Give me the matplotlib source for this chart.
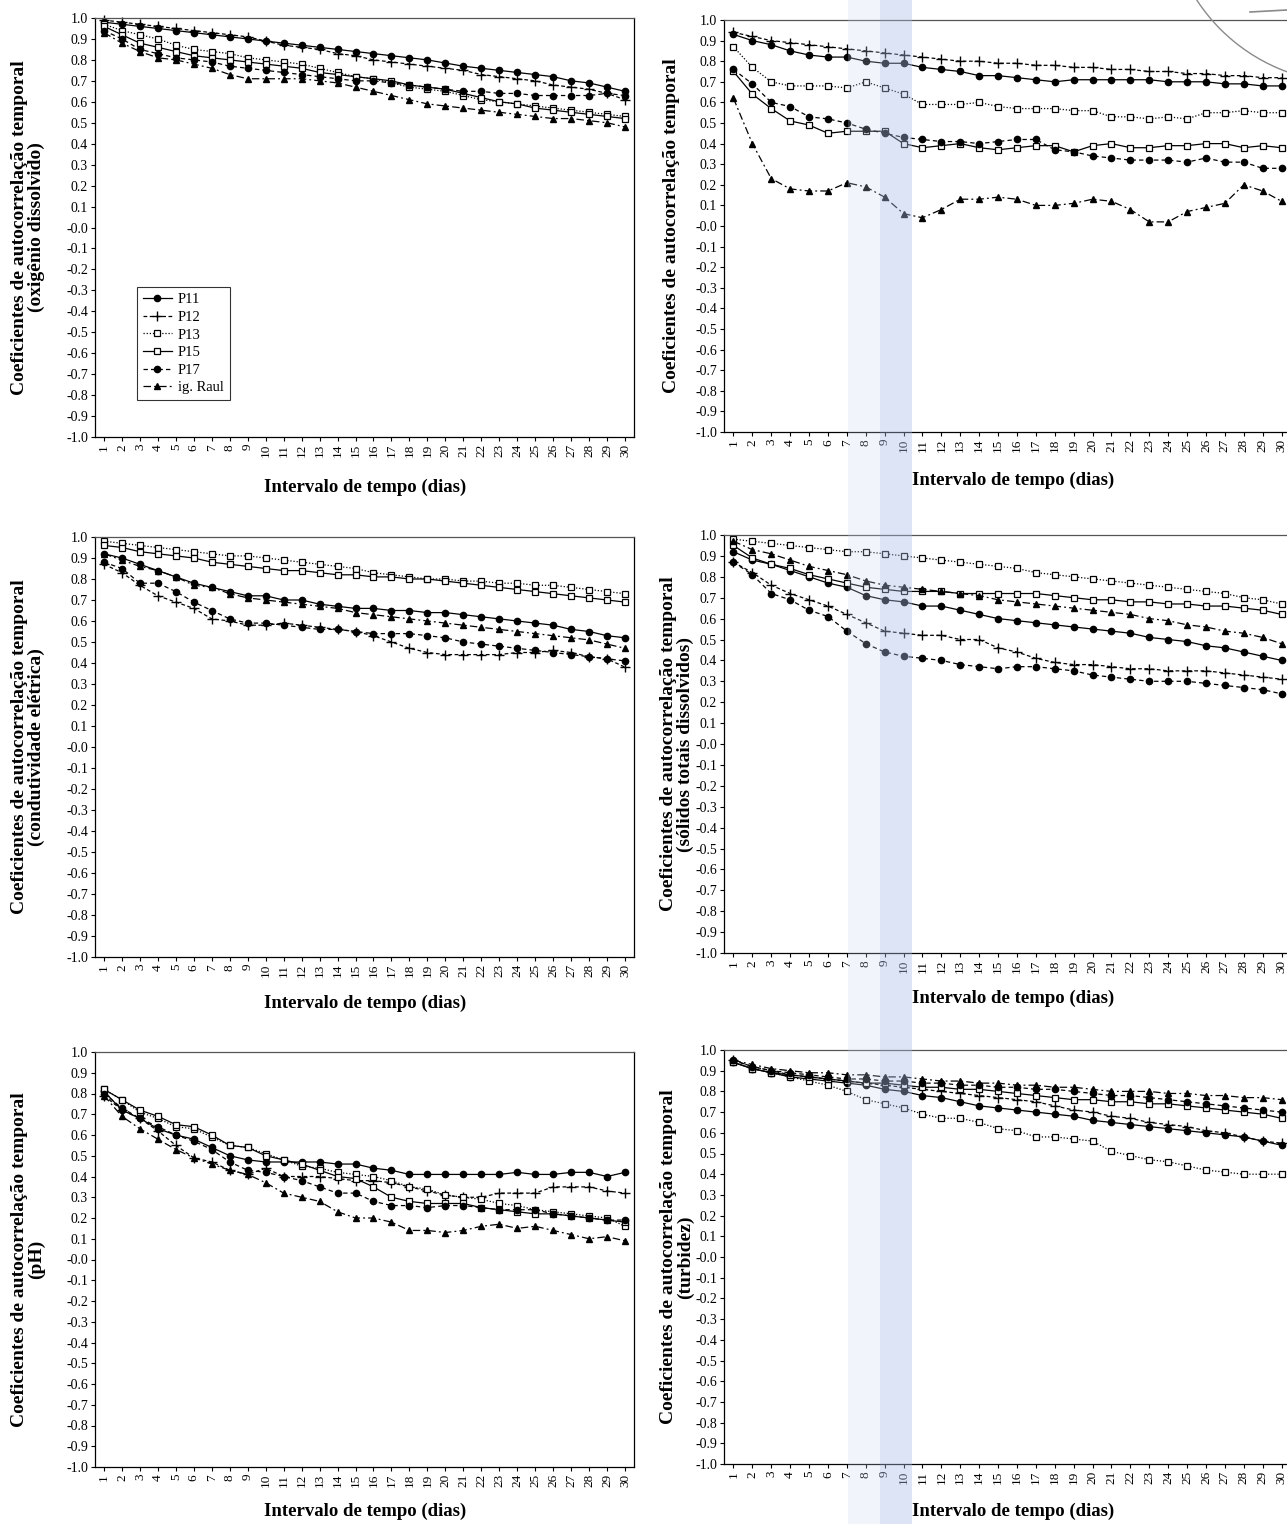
import matplotlib
matplotlib.use("Agg")
import matplotlib.pyplot as plt
from matplotlib.patches import Rectangle, Arc
import numpy as np

plt.rcParams['font.family'] = ['Liberation Serif', 'DejaVu Serif']
plt.rcParams['axes.unicode_minus'] = False

dias = list(range(1, 31))
series_names = ["P11", "P12", "P13", "P15", "P17", "ig. Raul"]

# Oxigênio dissolvido
od_p11 = [0.98, 0.97, 0.96, 0.95, 0.94, 0.93, 0.92, 0.91, 0.90, 0.89, 0.88, 0.87, 0.86, 0.85, 0.84,
          0.83, 0.82, 0.81, 0.80, 0.785, 0.77, 0.76, 0.75, 0.74, 0.73, 0.72, 0.70, 0.69, 0.67, 0.65]
od_p12 = [0.99, 0.98, 0.97, 0.96, 0.95, 0.94, 0.93, 0.92, 0.91, 0.89, 0.87, 0.86, 0.85, 0.83, 0.82,
          0.80, 0.79, 0.78, 0.77, 0.76, 0.75, 0.73, 0.72, 0.71, 0.70, 0.68, 0.67, 0.66, 0.64, 0.61]
od_p13 = [0.97, 0.94, 0.92, 0.90, 0.87, 0.85, 0.84, 0.83, 0.81, 0.80, 0.79, 0.78, 0.76, 0.74, 0.72,
          0.71, 0.69, 0.67, 0.66, 0.65, 0.63, 0.61, 0.60, 0.59, 0.58, 0.57, 0.56, 0.55, 0.54, 0.53]
od_p15 = [0.96, 0.92, 0.88, 0.86, 0.84, 0.82, 0.81, 0.80, 0.79, 0.78, 0.77, 0.76, 0.74, 0.73, 0.72,
          0.71, 0.70, 0.68, 0.67, 0.66, 0.64, 0.62, 0.60, 0.59, 0.57, 0.56, 0.55, 0.54, 0.53, 0.52]
od_p17 = [0.94, 0.90, 0.85, 0.83, 0.81, 0.80, 0.79, 0.77, 0.76, 0.75, 0.74, 0.73, 0.72, 0.71, 0.70,
          0.70, 0.69, 0.68, 0.67, 0.66, 0.65, 0.65, 0.64, 0.64, 0.63, 0.63, 0.63, 0.63, 0.64, 0.63]
od_raul = [0.93, 0.88, 0.84, 0.81, 0.80, 0.78, 0.76, 0.73, 0.71, 0.71, 0.71, 0.71, 0.70, 0.69, 0.67,
           0.65, 0.63, 0.61, 0.59, 0.58, 0.57, 0.56, 0.55, 0.54, 0.53, 0.52, 0.52, 0.51, 0.50, 0.48]

# Painel superior direito
sp_p11 = [0.93, 0.90, 0.88, 0.85, 0.83, 0.82, 0.82, 0.80, 0.79, 0.79, 0.77, 0.76, 0.75, 0.73, 0.73,
          0.72, 0.71, 0.70, 0.71, 0.71, 0.71, 0.71, 0.71, 0.70, 0.70, 0.70, 0.69, 0.69, 0.68, 0.68]
sp_p12 = [0.94, 0.92, 0.90, 0.89, 0.88, 0.87, 0.86, 0.85, 0.84, 0.83, 0.82, 0.81, 0.80, 0.80, 0.79,
          0.79, 0.78, 0.78, 0.77, 0.77, 0.76, 0.76, 0.75, 0.75, 0.74, 0.74, 0.73, 0.73, 0.72, 0.72]
sp_p13 = [0.87, 0.77, 0.70, 0.68, 0.68, 0.68, 0.67, 0.70, 0.67, 0.64, 0.59, 0.59, 0.59, 0.60, 0.58,
          0.57, 0.57, 0.57, 0.56, 0.56, 0.53, 0.53, 0.52, 0.53, 0.52, 0.55, 0.55, 0.56, 0.55, 0.55]
sp_p15 = [0.75, 0.64, 0.57, 0.51, 0.49, 0.45, 0.46, 0.46, 0.46, 0.40, 0.38, 0.39, 0.40, 0.38, 0.37,
          0.38, 0.39, 0.39, 0.36, 0.39, 0.40, 0.38, 0.38, 0.39, 0.39, 0.40, 0.40, 0.38, 0.39, 0.38]
sp_p17 = [0.76, 0.69, 0.60, 0.58, 0.53, 0.52, 0.50, 0.47, 0.45, 0.43, 0.42, 0.41, 0.41, 0.40, 0.41,
          0.42, 0.42, 0.37, 0.36, 0.34, 0.33, 0.32, 0.32, 0.32, 0.31, 0.33, 0.31, 0.31, 0.28, 0.28]
sp_raul = [0.62, 0.40, 0.23, 0.18, 0.17, 0.17, 0.21, 0.19, 0.14, 0.06, 0.04, 0.08, 0.13, 0.13, 0.14,
           0.13, 0.10, 0.10, 0.11, 0.13, 0.12, 0.08, 0.02, 0.02, 0.07, 0.09, 0.11, 0.20, 0.17, 0.12]

# Condutividade elétrica
ce_p11 = [0.92, 0.90, 0.87, 0.84, 0.81, 0.78, 0.76, 0.74, 0.72, 0.72, 0.70, 0.70, 0.68, 0.67, 0.66,
          0.66, 0.65, 0.65, 0.64, 0.64, 0.63, 0.62, 0.61, 0.60, 0.59, 0.58, 0.56, 0.55, 0.53, 0.52]
ce_p12 = [0.87, 0.83, 0.77, 0.72, 0.69, 0.66, 0.61, 0.60, 0.58, 0.58, 0.59, 0.58, 0.57, 0.56, 0.55,
          0.53, 0.50, 0.47, 0.45, 0.44, 0.44, 0.44, 0.44, 0.45, 0.45, 0.46, 0.45, 0.43, 0.42, 0.38]
ce_p13 = [0.98, 0.97, 0.96, 0.95, 0.94, 0.93, 0.92, 0.91, 0.91, 0.90, 0.89, 0.88, 0.87, 0.86, 0.85,
          0.83, 0.82, 0.81, 0.80, 0.80, 0.79, 0.79, 0.78, 0.78, 0.77, 0.77, 0.76, 0.75, 0.74, 0.73]
ce_p15 = [0.96, 0.95, 0.93, 0.92, 0.91, 0.90, 0.88, 0.87, 0.86, 0.85, 0.84, 0.84, 0.83, 0.82, 0.82,
          0.81, 0.81, 0.80, 0.80, 0.79, 0.78, 0.77, 0.76, 0.75, 0.74, 0.73, 0.72, 0.71, 0.70, 0.69]
ce_p17 = [0.88, 0.85, 0.78, 0.78, 0.74, 0.69, 0.65, 0.61, 0.59, 0.59, 0.58, 0.57, 0.56, 0.56, 0.55,
          0.54, 0.54, 0.54, 0.53, 0.52, 0.50, 0.49, 0.48, 0.47, 0.46, 0.45, 0.44, 0.43, 0.42, 0.41]
ce_raul = [0.92, 0.89, 0.86, 0.84, 0.81, 0.77, 0.76, 0.73, 0.71, 0.70, 0.69, 0.68, 0.67, 0.66, 0.64,
           0.63, 0.62, 0.61, 0.60, 0.59, 0.58, 0.57, 0.56, 0.55, 0.54, 0.53, 0.52, 0.51, 0.49, 0.47]

# Sólidos totais dissolvidos
std_p11 = [0.92, 0.88, 0.86, 0.83, 0.80, 0.77, 0.75, 0.71, 0.69, 0.68, 0.66, 0.66, 0.64, 0.62, 0.60,
           0.59, 0.58, 0.57, 0.56, 0.55, 0.54, 0.53, 0.51, 0.50, 0.49, 0.47, 0.46, 0.44, 0.42, 0.40]
std_p12 = [0.87, 0.82, 0.76, 0.72, 0.69, 0.66, 0.62, 0.58, 0.54, 0.53, 0.52, 0.52, 0.50, 0.50, 0.46,
           0.44, 0.41, 0.39, 0.38, 0.38, 0.37, 0.36, 0.36, 0.35, 0.35, 0.35, 0.34, 0.33, 0.32, 0.31]
std_p13 = [0.98, 0.97, 0.96, 0.95, 0.94, 0.93, 0.92, 0.92, 0.91, 0.90, 0.89, 0.88, 0.87, 0.86, 0.85,
           0.84, 0.82, 0.81, 0.80, 0.79, 0.78, 0.77, 0.76, 0.75, 0.74, 0.73, 0.72, 0.70, 0.69, 0.67]
std_p15 = [0.95, 0.89, 0.86, 0.84, 0.81, 0.79, 0.77, 0.75, 0.74, 0.73, 0.73, 0.73, 0.72, 0.72, 0.72,
           0.72, 0.72, 0.71, 0.70, 0.69, 0.69, 0.68, 0.68, 0.67, 0.67, 0.66, 0.66, 0.65, 0.64, 0.62]
std_p17 = [0.87, 0.81, 0.72, 0.69, 0.64, 0.61, 0.54, 0.48, 0.44, 0.42, 0.41, 0.40, 0.38, 0.37, 0.36,
           0.37, 0.37, 0.36, 0.35, 0.33, 0.32, 0.31, 0.30, 0.30, 0.30, 0.29, 0.28, 0.27, 0.26, 0.24]
std_raul = [0.97, 0.93, 0.91, 0.88, 0.85, 0.83, 0.81, 0.78, 0.76, 0.75, 0.74, 0.73, 0.72, 0.71, 0.69,
            0.68, 0.67, 0.66, 0.65, 0.64, 0.63, 0.62, 0.60, 0.59, 0.57, 0.56, 0.54, 0.53, 0.51, 0.48]

# pH
ph_p11 = [0.81, 0.72, 0.68, 0.63, 0.60, 0.58, 0.54, 0.50, 0.48, 0.47, 0.47, 0.47, 0.47, 0.46, 0.46,
          0.44, 0.43, 0.41, 0.41, 0.41, 0.41, 0.41, 0.41, 0.42, 0.41, 0.41, 0.42, 0.42, 0.40, 0.42]
ph_p12 = [0.79, 0.72, 0.68, 0.62, 0.55, 0.49, 0.47, 0.43, 0.41, 0.44, 0.40, 0.40, 0.40, 0.39, 0.38,
          0.38, 0.37, 0.35, 0.33, 0.31, 0.30, 0.30, 0.32, 0.32, 0.32, 0.35, 0.35, 0.35, 0.33, 0.32]
ph_p13 = [0.82, 0.77, 0.71, 0.68, 0.64, 0.63, 0.59, 0.55, 0.54, 0.51, 0.48, 0.45, 0.44, 0.42, 0.41,
          0.40, 0.38, 0.35, 0.34, 0.31, 0.30, 0.29, 0.27, 0.26, 0.24, 0.23, 0.22, 0.21, 0.20, 0.16]
ph_p15 = [0.82, 0.77, 0.72, 0.69, 0.65, 0.64, 0.60, 0.55, 0.54, 0.50, 0.48, 0.46, 0.43, 0.40, 0.39,
          0.35, 0.30, 0.28, 0.27, 0.27, 0.27, 0.25, 0.24, 0.23, 0.22, 0.22, 0.21, 0.20, 0.19, 0.18]
ph_p17 = [0.80, 0.73, 0.68, 0.64, 0.60, 0.57, 0.53, 0.47, 0.43, 0.42, 0.40, 0.38, 0.35, 0.32, 0.32,
          0.28, 0.26, 0.26, 0.25, 0.26, 0.26, 0.25, 0.24, 0.24, 0.24, 0.22, 0.21, 0.20, 0.19, 0.19]
ph_raul = [0.79, 0.69, 0.63, 0.58, 0.53, 0.49, 0.46, 0.43, 0.41, 0.37, 0.32, 0.30, 0.28, 0.23, 0.20,
           0.20, 0.18, 0.14, 0.14, 0.13, 0.14, 0.16, 0.17, 0.15, 0.16, 0.14, 0.12, 0.10, 0.11, 0.09]

# Turbidez
tb_p11 = [0.94, 0.91, 0.89, 0.87, 0.86, 0.85, 0.84, 0.83, 0.81, 0.80, 0.78, 0.77, 0.75, 0.73, 0.72,
          0.71, 0.70, 0.69, 0.68, 0.66, 0.65, 0.64, 0.63, 0.62, 0.61, 0.60, 0.59, 0.58, 0.56, 0.54]
tb_p12 = [0.95, 0.92, 0.90, 0.88, 0.87, 0.86, 0.85, 0.84, 0.83, 0.82, 0.81, 0.80, 0.79, 0.78, 0.77,
          0.76, 0.75, 0.73, 0.71, 0.70, 0.68, 0.67, 0.65, 0.64, 0.63, 0.61, 0.60, 0.58, 0.56, 0.55]
tb_p13 = [0.94, 0.91, 0.89, 0.87, 0.85, 0.83, 0.80, 0.76, 0.74, 0.72, 0.69, 0.67, 0.67, 0.65, 0.62,
          0.61, 0.58, 0.58, 0.57, 0.56, 0.51, 0.49, 0.47, 0.46, 0.44, 0.42, 0.41, 0.40, 0.40, 0.40]
tb_p15 = [0.94, 0.91, 0.89, 0.88, 0.87, 0.86, 0.85, 0.84, 0.84, 0.83, 0.82, 0.82, 0.81, 0.81, 0.80,
          0.79, 0.78, 0.77, 0.76, 0.76, 0.75, 0.75, 0.74, 0.74, 0.73, 0.72, 0.71, 0.70, 0.69, 0.67]
tb_p17 = [0.95, 0.92, 0.90, 0.89, 0.88, 0.87, 0.86, 0.86, 0.85, 0.85, 0.84, 0.84, 0.83, 0.83, 0.82,
          0.82, 0.81, 0.81, 0.80, 0.79, 0.78, 0.78, 0.77, 0.76, 0.75, 0.74, 0.73, 0.72, 0.71, 0.70]
tb_raul = [0.95, 0.93, 0.91, 0.90, 0.89, 0.89, 0.88, 0.88, 0.87, 0.87, 0.86, 0.85, 0.85, 0.84, 0.84,
           0.83, 0.83, 0.82, 0.82, 0.81, 0.80, 0.80, 0.80, 0.79, 0.79, 0.78, 0.78, 0.77, 0.77, 0.76]

y_ticks = [round(v, 1) for v in np.arange(-1.0, 1.01, 0.1)]
ylabel_main = "Coeficientes de autocorrelação temporal"
xlabel_text = "Intervalo de tempo (dias)"

panels = [
    ("(oxigênio dissolvido)", [od_p11, od_p12, od_p13, od_p15, od_p17, od_raul]),
    (None, [sp_p11, sp_p12, sp_p13, sp_p15, sp_p17, sp_raul]),
    ("(condutividade elétrica)", [ce_p11, ce_p12, ce_p13, ce_p15, ce_p17, ce_raul]),
    ("(sólidos totais dissolvidos)", [std_p11, std_p12, std_p13, std_p15, std_p17, std_raul]),
    ("(pH)", [ph_p11, ph_p12, ph_p13, ph_p15, ph_p17, ph_raul]),
    ("(turbidez)", [tb_p11, tb_p12, tb_p13, tb_p15, tb_p17, tb_raul]),
]

# line style per station
styles = [
    dict(linestyle='-', marker='o', mfc='black', ms=4.5),
    dict(linestyle=(0, (3, 2)), marker='+', mfc='black', ms=7, mew=1.0),
    dict(linestyle=(0, (1, 1.5)), marker='s', mfc='white', ms=4.5, mew=0.9),
    dict(linestyle='-', marker='s', mfc='white', ms=4.5, mew=0.9),
    dict(linestyle=(0, (3.5, 2.5)), marker='o', mfc='black', ms=4.5),
    dict(linestyle=(0, (6, 2.5, 1.5, 2.5)), marker='^', mfc='black', ms=4.5),
]

W, H = 1287, 1524
fig = plt.figure(figsize=(W / 100, H / 100), dpi=100)
fig.patch.set_facecolor('white')

# pixel boxes: left, top, right, bottom
boxes = [
    (95, 18, 634, 437), (724, 20, 1291, 432),
    (95, 537, 634, 957), (724, 535, 1291, 953),
    (95, 1052, 634, 1467), (724, 1050, 1291, 1464),
]
ylabel_x = [28, 672, 28, 677, 28, 677]
xlabel_x = [365, 1013, 365, 1013, 365, 1013]
xlabel_y = [487, 480, 1003, 998, 1511, 1511]


def px_rect(b):
    l, t, r, btm = b
    return [l / W, 1 - btm / H, (r - l) / W, (btm - t) / H]


axes = []
for i, (box, (sub, data)) in enumerate(zip(boxes, panels)):
    ax = fig.add_axes(px_rect(box))
    axes.append(ax)
    for name, vals, st in zip(series_names, data, styles):
        ax.plot(dias, vals, color='black', lw=0.9, mec='black', label=name,
                clip_on=False, **st)
    ax.set_xlim(0.5, 30.5)
    ax.set_ylim(-1.0, 1.0)
    ax.set_yticks(y_ticks)
    ax.set_yticklabels([f"{v:.1f}" for v in y_ticks], fontsize=10)
    ax.set_xticks(dias)
    ax.set_xticklabels([str(d) for d in dias], rotation=90, fontsize=9.5)
    ax.tick_params(axis='both', direction='out', length=3, width=0.8, pad=2)
    for sp in ax.spines.values():
        sp.set_linewidth(0.9)
    ax.spines['top'].set_color('#555555')

    l, t, r, btm = box
    label = ylabel_main if sub is None else ylabel_main + "\n" + sub
    fig.text(ylabel_x[i] / W, 1 - ((t + btm) / 2) / H, label, rotation=90,
             ha='center', va='center', multialignment='center',
             fontsize=14, fontweight='bold', linespacing=1.05)
    fig.text(xlabel_x[i] / W, 1 - xlabel_y[i] / H, xlabel_text,
             ha='center', va='center', fontsize=13.5, fontweight='bold')

leg = axes[0].legend(loc='lower left', bbox_to_anchor=(0.078, 0.088), fontsize=10.5,
                     frameon=True, fancybox=False, handlelength=2.0, labelspacing=0.3,
                     borderpad=0.4, handletextpad=0.4, borderaxespad=0)
leg.get_frame().set_edgecolor('black')
leg.get_frame().set_linewidth(0.8)

# faint blue streak running down the page
fig.add_artist(Rectangle((848 / W, 0), 32 / W, 1, transform=fig.transFigure,
                         facecolor='#c9d6f0', alpha=0.25, edgecolor='none', zorder=10))
fig.add_artist(Rectangle((880 / W, 0), 32 / W, 1, transform=fig.transFigure,
                         facecolor='#a9bde6', alpha=0.4, edgecolor='none', zorder=10))

# stamp outline in the top-right corner
overlay = fig.add_axes([0, 0, 1, 1], facecolor='none')
overlay.set_xlim(0, W)
overlay.set_ylim(H, 0)
overlay.axis('off')
overlay.add_patch(Arc((1350, -100), 366, 366, theta1=0, theta2=360,
                      color='#8a8a8a', lw=1.0))
overlay.plot([1250, 1287], [12, 10], color='#8a8a8a', lw=1.2)

fig.savefig("out.png", dpi=100, facecolor='white')
